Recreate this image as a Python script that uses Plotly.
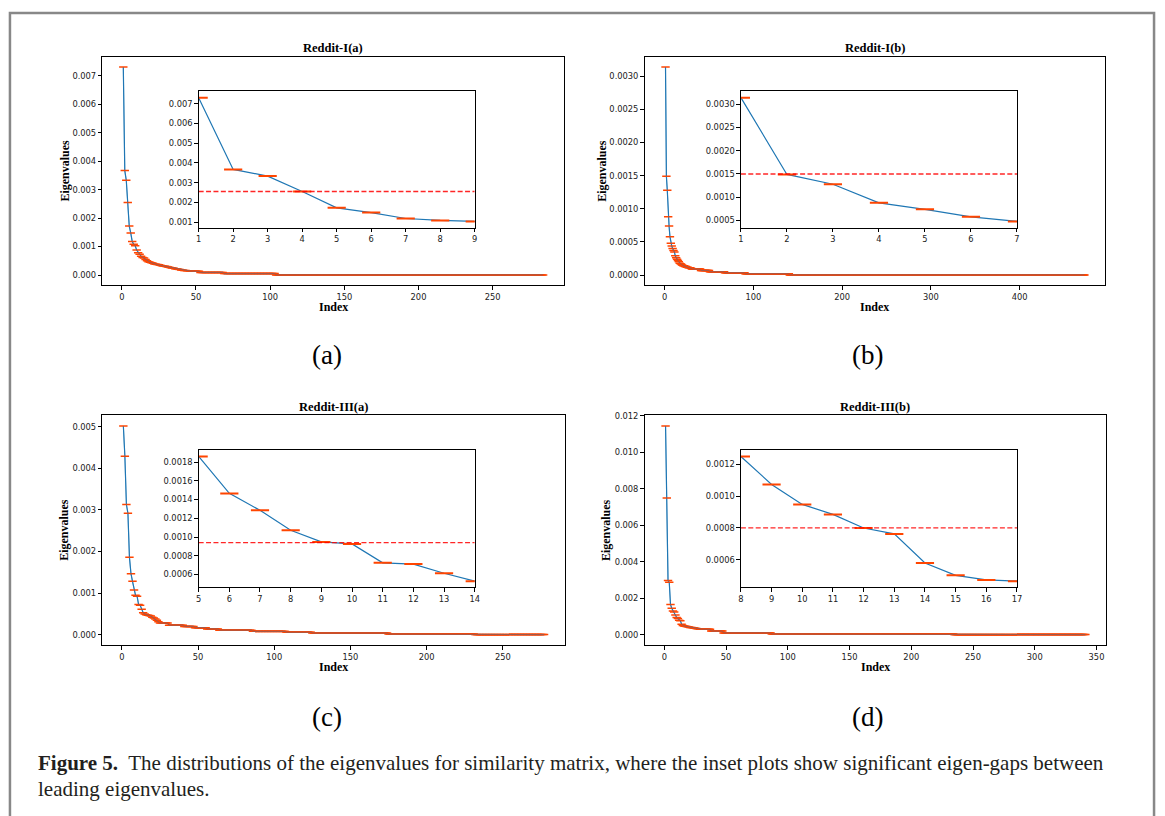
import numpy as np
import plotly.graph_objects as go

W, H = 1165, 816

# ---------------- data ----------------
# Reddit-I(a): leading eigenvalues, then plateaus of the tail (level, count)
A_HEAD = [0.00731, 0.00367, 0.00333, 0.00255, 0.00172, 0.00148, 0.00118, 0.00108, 0.00103,
          0.00088, 0.00078, 0.00073, 0.00066, 0.00062, 0.00060, 0.00055, 0.00050, 0.00047,
          0.00045, 0.00043, 0.00041, 0.00039, 0.00038, 0.00037, 0.00036, 0.00034, 0.00033,
          0.00032, 0.00031, 0.00030, 0.00028, 0.00027, 0.00026, 0.00025, 0.00024, 0.00022,
          0.00021, 0.00020, 0.00019, 0.00018, 0.00017, 0.00016, 0.00016, 0.00015, 0.00015,
          0.00014, 0.00014, 0.00013, 0.00013, 0.00013, 0.00013, 0.00013]
A_TAIL_LEVELS = [0.00009, 0.00005, 0.000005]
A_TAIL_COUNTS = [16, 35, 181]

# Reddit-I(b)
B_HEAD = [0.00314, 0.00149, 0.00128, 0.00088, 0.00074, 0.00058, 0.00048,
          0.00044, 0.00040, 0.00037, 0.00035, 0.00029, 0.00026, 0.00024, 0.00022,
          0.00020, 0.00018, 0.00017, 0.00016, 0.00015, 0.00014, 0.00014, 0.00013,
          0.00013, 0.00012, 0.00012, 0.00011, 0.00011, 0.00011, 0.00010]
B_TAIL_LEVELS = [0.00009, 0.00007, 0.00005, 0.000035, 0.00002, 0.000003]
B_TAIL_COUNTS = [10, 10, 17, 23, 50, 333]

# Reddit-III(a)
C_HEAD = [0.00502, 0.00429, 0.00313, 0.00292, 0.00186, 0.001466, 0.001285, 0.001072,
          0.000948, 0.000927, 0.000725, 0.000711, 0.000614, 0.000529, 0.00050, 0.00048,
          0.00047, 0.00046, 0.00045, 0.00042, 0.00040, 0.00038, 0.00035, 0.00031]
C_TAIL_LEVELS = [0.00028, 0.00023, 0.00020, 0.00017, 0.00014, 0.00011, 0.00008,
                 0.00006, 0.00004, 0.000016, 0.000002]
C_TAIL_COUNTS = [6, 10, 7, 8, 8, 22, 22, 17, 50, 57, 46]

# Reddit-III(b)
D_HEAD = [0.01145, 0.00750, 0.00297, 0.00287, 0.00166, 0.00145, 0.00130,
          0.00125, 0.001074, 0.000948, 0.000885, 0.000799, 0.000762, 0.000579,
          0.000501, 0.000472, 0.000464, 0.00045, 0.00044, 0.00042, 0.00040,
          0.00039, 0.00038, 0.00037, 0.00036, 0.00034, 0.00033, 0.00032]
D_TAIL_LEVELS = [0.00030, 0.00020, 0.00010, 0.00004, 0.000005]
D_TAIL_COUNTS = [9, 10, 39, 148, 107]

TITLES = ["Reddit-I(a)", "Reddit-I(b)", "Reddit-III(a)", "Reddit-III(b)"]
LETTERS = ["(a)", "(b)", "(c)", "(d)"]
INSET_X = [(1, 9), (1, 7), (5, 14), (8, 17)]      # index window of each inset
GAP_LINE = [0.00255, 0.00150, 0.00094, 0.00080]   # red dashed level in insets
MAIN_XTICK = [50, 100, 50, 50]
MAIN_YTICK = [0.001, 0.0005, 0.001, 0.002]
MAIN_YFMT = [".3f", ".4f", ".3f", ".3f"]
INSET_YTICK = [0.001, 0.0005, 0.0002, 0.0002]
INSET_YFMT = [".3f", ".4f", ".4f", ".4f"]


def series(head, levels, counts):
    return np.concatenate([np.asarray(head, float), np.repeat(levels, counts)])


SERIES = [series(A_HEAD, A_TAIL_LEVELS, A_TAIL_COUNTS),
          series(B_HEAD, B_TAIL_LEVELS, B_TAIL_COUNTS),
          series(C_HEAD, C_TAIL_LEVELS, C_TAIL_COUNTS),
          series(D_HEAD, D_TAIL_LEVELS, D_TAIL_COUNTS)]

# ---------------- layout geometry (pixels) ----------------
MAIN_BOX = [(100, 565, 52, 282), (646, 1110, 52, 282),
            (100, 566, 413, 644), (646, 1111, 413, 644)]
INSET_BOX = [(197, 475, 87, 224), (743, 1021, 87, 224),
             (197, 475, 448, 586), (743, 1021, 448, 586)]
YLABEL_X = [62, 603, 62, 607]


def fx(px):
    return px / W


def fy(py):
    return 1 - py / H


def pad(lo, hi, f=0.05):
    s = hi - lo
    return [lo - f * s, hi + f * s]


BLUE = "#1f77b4"
ORANGE = "#ff4500"
TICKFONT = dict(family="DejaVu Sans", size=8.3, color="#222")

axis_style = dict(showline=True, linecolor="black", linewidth=1, mirror=True,
                  ticks="outside", ticklen=3.5, tickwidth=0.8, tickcolor="black",
                  showgrid=False, zeroline=False, tickfont=TICKFONT)

fig = go.Figure()
layout = {}
annotations = []

for i in range(4):
    vals = SERIES[i]
    idx = np.arange(1, len(vals) + 1)
    km, ki = 2 * i + 1, 2 * i + 2
    xm = "x" if km == 1 else f"x{km}"
    ym = "y" if km == 1 else f"y{km}"
    xi, yi = f"x{ki}", f"y{ki}"

    x0, x1, y0, y1 = MAIN_BOX[i]
    layout["xaxis" if km == 1 else f"xaxis{km}"] = dict(
        axis_style, domain=[fx(x0), fx(x1)], anchor=ym,
        range=pad(idx[0], idx[-1]), tick0=0, dtick=MAIN_XTICK[i])
    layout["yaxis" if km == 1 else f"yaxis{km}"] = dict(
        axis_style, domain=[fy(y1), fy(y0)], anchor=xm,
        range=pad(vals.min(), vals.max()), tick0=0, dtick=MAIN_YTICK[i],
        tickformat=MAIN_YFMT[i])

    fig.add_trace(go.Scatter(
        x=idx, y=vals, mode="lines+markers", xaxis=xm, yaxis=ym,
        line=dict(color=BLUE, width=1.2),
        marker=dict(symbol="line-ew", size=6, color=ORANGE,
                    line=dict(color=ORANGE, width=1.5)),
        showlegend=False, hoverinfo="skip"))
    # blue line re-drawn faintly on top, as the curve shows through the markers in the tail
    fig.add_trace(go.Scatter(
        x=idx, y=vals, mode="lines", xaxis=xm, yaxis=ym,
        line=dict(color=BLUE, width=1.0), opacity=0.45,
        showlegend=False, hoverinfo="skip"))

    # inset
    lo, hi = INSET_X[i]
    sub = vals[lo - 1:hi]
    sidx = idx[lo - 1:hi]
    a0, a1, b0, b1 = INSET_BOX[i]
    layout[f"xaxis{ki}"] = dict(axis_style, domain=[fx(a0), fx(a1)], anchor=yi,
                                range=[lo, hi], dtick=1)
    layout[f"yaxis{ki}"] = dict(axis_style, domain=[fy(b1), fy(b0)], anchor=xi,
                                range=pad(sub.min(), sub.max()), tick0=0,
                                dtick=INSET_YTICK[i], tickformat=INSET_YFMT[i])
    fig.add_trace(go.Scatter(
        x=sidx, y=sub, mode="lines+markers", xaxis=xi, yaxis=yi,
        line=dict(color=BLUE, width=1.2),
        marker=dict(symbol="line-ew", size=13, color=ORANGE,
                    line=dict(color=ORANGE, width=2)),
        showlegend=False, hoverinfo="skip"))
    fig.add_trace(go.Scatter(
        x=[lo, hi], y=[GAP_LINE[i], GAP_LINE[i]], mode="lines", xaxis=xi, yaxis=yi,
        line=dict(color="rgba(255,0,0,0.85)", width=1.3, dash="5px,2.4px"),
        showlegend=False, hoverinfo="skip"))

    # texts
    cx = (x0 + x1) / 2
    annotations.append(dict(text=f"<b>{TITLES[i]}</b>", x=fx(cx), y=fy(y0 - 9),
                            xref="paper", yref="paper", showarrow=False,
                            xanchor="center", yanchor="middle",
                            font=dict(family="Liberation Serif", size=12.5, color="black")))
    annotations.append(dict(text="<b>Index</b>", x=fx(cx), y=fy(y1 + 22),
                            xref="paper", yref="paper", showarrow=False,
                            xanchor="center", yanchor="middle",
                            font=dict(family="Liberation Serif", size=12, color="black")))
    annotations.append(dict(text="<b>Eigenvalues</b>", x=fx(YLABEL_X[i]), y=fy((y0 + y1) / 2),
                            xref="paper", yref="paper", showarrow=False, textangle=-90,
                            xanchor="center", yanchor="middle",
                            font=dict(family="Liberation Serif", size=12, color="black")))
    annotations.append(dict(text=LETTERS[i], x=fx(326 if i % 2 == 0 else 870),
                            y=fy(352 if i < 2 else 716),
                            xref="paper", yref="paper", showarrow=False,
                            xanchor="center", yanchor="middle",
                            font=dict(family="Liberation Serif", size=27, color="black")))

annotations.append(dict(
    text="<b>Figure 5.</b>  The distributions of the eigenvalues for similarity matrix, "
         "where the inset plots show significant eigen-gaps between",
    x=fx(33), y=fy(763), xref="paper", yref="paper", showarrow=False,
    xanchor="left", yanchor="middle",
    font=dict(family="Liberation Serif", size=21, color="#231f20")))
annotations.append(dict(
    text="leading eigenvalues.",
    x=fx(33), y=fy(789), xref="paper", yref="paper", showarrow=False,
    xanchor="left", yanchor="middle",
    font=dict(family="Liberation Serif", size=21, color="#231f20")))

layout["annotations"] = annotations
layout["shapes"] = [dict(type="path", xref="paper", yref="paper",
                         path=f"M {fx(7)} {fy(830)} L {fx(7)} {fy(8)} L {fx(1159)} {fy(8)} L {fx(1159)} {fy(830)}",
                         line=dict(color="#888888", width=2.5))]
fig.update_layout(**layout)
fig.update_layout(width=W, height=H, margin=dict(l=0, r=0, t=0, b=0),
                  paper_bgcolor="white", plot_bgcolor="white")

fig.write_html("out.html", config={"displayModeBar": False},
               post_script="document.body.style.margin='0px';")
